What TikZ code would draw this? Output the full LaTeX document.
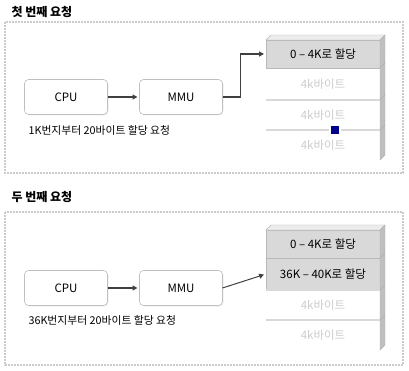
\documentclass[tikz,border=0pt]{standalone}
\usepackage{fontspec}
\newfontfamily\krfont{Noto Sans CJK KR}
\usetikzlibrary{arrows.meta, calc, shadows}

\tikzset{
  panel/.style={draw=gray!40, densely dotted, line width=2pt},
  unit/.style={draw=gray!50, fill=white, rounded corners=4pt, line width=0.6pt,
    minimum width=83pt, minimum height=35pt, outer sep=0pt,
    drop shadow={opacity=0.12, shadow xshift=1pt, shadow yshift=-1pt},
    font=\krfont\fontsize{11.5}{13}\selectfont},
  memblk/.style={minimum width=114pt, inner sep=0pt, outer sep=0pt, anchor=north west,
    font=\krfont\fontsize{11.5}{13}\selectfont},
  used/.style={memblk, fill=gray!30, draw=gray!55, line width=0.4pt},
  free/.style={memblk, text=gray!40},
  topface/.style={fill=gray!15, draw=gray!55, line width=0.4pt},
  sideface/.style={fill=gray!50, draw=gray!60, line width=0.4pt},
  rim/.style={draw=gray!30, line width=1.5pt},
  bus/.style={draw=black!75, line width=1.3pt, shorten >=2pt,
    -{Triangle[length=5pt,width=5pt]}},
  note/.style={anchor=west, font=\krfont\fontsize{10.8}{13}\selectfont},
  heading/.style={anchor=west, font=\krfont\bfseries\fontsize{12}{14}\selectfont},
}

\begin{document}
\begin{tikzpicture}[x=1pt, y=-1pt]
  \useasboundingbox (0,0) rectangle (409,371);

  % First request
  \node[heading] (title1) at (8,12) {첫 번째 요청};
  \draw[panel] (5,22) rectangle (403,173);
  \node[unit] (cpu1) at (66,97) {CPU};
  \node[unit] (mmu1) at (181,97) {MMU};
  \node[note] (req1) at (25,130) {1K번지부터 20바이트 할당 요청};

  % Memory
  \node[used, minimum height=28pt] (a1) at (266,40) {0 – 4K로 할당};
  \node[free, minimum height=32pt] (b1) at (266,68) {4k바이트};
  \node[free, minimum height=30pt] (c1) at (266,100) {4k바이트};
  \node[free, minimum height=30pt] (d1) at (266,130) {4k바이트};
  \draw[topface] (a1.north west) -- ++(5,-5) -- ++(114,0) -- (a1.north east) -- cycle;
  \foreach \blk in {a1,b1,c1,d1}
    \draw[sideface] (\blk.north east) -- ++(5,-5) -- ($(\blk.south east)+(5,-5)$) -- (\blk.south east) -- cycle;
  \foreach \blk in {c1,d1}
    \draw[rim] (\blk.north west) -- (\blk.north east);
  \node[fill=blue!55!black, draw=white, line width=2pt, minimum size=10pt, inner sep=0pt] (ptr1) at (335,130) {};

  % Connections
  \draw[bus] (cpu1) -- (mmu1);
  \draw[bus] (mmu1.east) -- ++(18,0) |- (a1.west);

  % Second request
  \node[heading] (title2) at (8,197) {두 번째 요청};
  \draw[panel] (5,212) rectangle (403,365);
  \node[unit] (cpu2) at (66,288) {CPU};
  \node[unit] (mmu2) at (181,288) {MMU};
  \node[note] (req2) at (25,320) {36K번지부터 20바이트 할당 요청};

  % Memory
  \node[used, minimum height=28pt] (a2) at (266,230) {0 – 4K로 할당};
  \node[used, minimum height=32pt] (b2) at (266,258) {36K – 40K로 할당};
  \node[free, minimum height=30pt] (c2) at (266,290) {4k바이트};
  \node[free, minimum height=30pt] (d2) at (266,320) {4k바이트};
  \draw[topface] (a2.north west) -- ++(5,-5) -- ++(114,0) -- (a2.north east) -- cycle;
  \foreach \blk in {a2,b2,c2,d2}
    \draw[sideface] (\blk.north east) -- ++(5,-5) -- ($(\blk.south east)+(5,-5)$) -- (\blk.south east) -- cycle;
  \foreach \blk in {c2,d2}
    \draw[rim] (\blk.north west) -- (\blk.north east);

  % Connections
  \draw[bus] (cpu2) -- (mmu2);
  \draw[bus, line width=1pt] (mmu2.east) -- (b2.west);
\end{tikzpicture}
\end{document}
